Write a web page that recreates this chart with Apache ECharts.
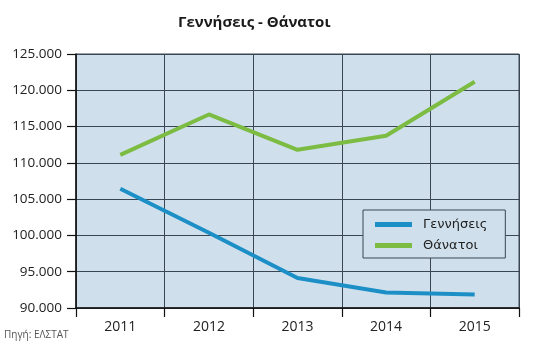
<!DOCTYPE html>
<html>
<head>
<meta charset="utf-8">
<script src="https://cdn.jsdelivr.net/npm/echarts@6/dist/echarts.min.js"></script>
<style>
  html, body { margin: 0; padding: 0; background: #fff; }
  #chart { width: 543px; height: 353px; }
</style>
</head>
<body>
<div id="chart"></div>
<script>
const years = ["2011", "2012", "2013", "2014", "2015"];
const births = [106428, 100371, 94134, 92149, 91847];
const deaths = [111099, 116668, 111794, 113740, 121183];

const chart = echarts.init(document.getElementById("chart"));

const fmt = (v) => String(v).replace(/\B(?=(\d{3})+(?!\d))/g, ".");

chart.setOption({
  animation: false,
  textStyle: { fontFamily: "Open Sans" },
  title: {
    text: "Γεννήσεις - Θάνατοι",
    left: 173,
    top: 10,
    textStyle: { fontSize: 15, fontWeight: "bold", color: "#1a1a1a", fontFamily: "Open Sans" },
  },
  graphic: [
    {
      type: "text",
      left: 4,
      top: 330,
      style: { text: "Πηγή: ΕΛΣΤΑΤ", fontSize: 10, fill: "#555", fontFamily: "Open Sans" },
    },
  ],
  grid: {
    left: 76,
    right: 24,
    top: 54,
    bottom: 45,
    show: true,
    backgroundColor: "#cfe0ec",
    borderColor: "#3a4753",
    borderWidth: 1,
  },
  legend: {
    orient: "vertical",
    left: 363,
    top: 210,
    padding: [8, 18, 6, 12],
    itemGap: 8,
    itemWidth: 37,
    itemHeight: 5,
    icon: "rect",
    backgroundColor: "#cfe0ec",
    borderColor: "#3a4753",
    borderWidth: 1,
    textStyle: { fontSize: 13, color: "#222", fontFamily: "DejaVu Sans", padding: [0, 0, 0, 6] },
    data: ["Γεννήσεις", "Θάνατοι"],
  },
  xAxis: {
    type: "category",
    data: years,
    boundaryGap: true,
    axisLine: { lineStyle: { color: "#111", width: 1.5 } },
    axisTick: { show: true, length: 9, lineStyle: { color: "#111", width: 1.2 } },
    axisLabel: { fontSize: 14, color: "#222", margin: 12 },
    splitLine: { show: true, lineStyle: { color: "#3a4753", width: 1 } },
  },
  yAxis: {
    type: "value",
    min: 90000,
    max: 125000,
    interval: 5000,
    axisLine: { show: true, lineStyle: { color: "#111", width: 1.5 } },
    axisTick: { show: true, length: 9, lineStyle: { color: "#111", width: 1.2 } },
    axisLabel: { fontSize: 13.5, color: "#222", margin: 14, formatter: fmt },
    splitLine: { show: true, lineStyle: { color: "#3a4753", width: 1 } },
  },
  series: [
    {
      name: "Γεννήσεις",
      type: "line",
      data: births,
      symbol: "none",
      itemStyle: { color: "#1d8fc7" },
      lineStyle: { color: "#1d8fc7", width: 4 },
    },
    {
      name: "Θάνατοι",
      type: "line",
      data: deaths,
      symbol: "none",
      itemStyle: { color: "#7cbc42" },
      lineStyle: { color: "#7cbc42", width: 4 },
    },
  ],
});
</script>
</body>
</html>
